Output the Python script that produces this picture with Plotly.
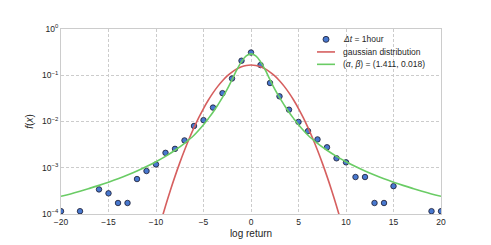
import plotly.graph_objects as go

# Empirical distribution (Δt = 1hour)
x_pts = [-20, -18, -16, -15, -14, -13, -12, -11, -10, -9, -8, -7, -6, -5, -4, -3, -2, -1, 0,
         1, 2, 3, 4, 5, 6, 7, 8, 9, 10, 11, 12, 13, 14, 15, 19, 20]
f_pts = [1.15e-4, 1.15e-4, 3.4e-4, 2.8e-4, 1.73e-4, 1.73e-4, 5.7e-4, 8.5e-4, 1.18e-3, 2.1e-3,
         2.56e-3, 3.9e-3, 8.0e-3, 1.07e-2, 2.0e-2, 4.1e-2, 8.5e-2, 0.206, 0.31,
         0.166, 0.068, 0.035, 0.018, 9.8e-3, 6.2e-3, 4.1e-3, 2.77e-3, 1.6e-3, 1.31e-3,
         6.3e-4, 6.3e-4, 1.73e-4, 1.73e-4, 4.0e-4, 1.15e-4, 1.15e-4]

# Gaussian distribution curve
x_gauss = [-10, -9.5, -9, -8.5, -8, -7.5, -7, -6.5, -6, -5.5, -5, -4.5, -4, -3.5, -3, -2.5, -2,
           -1.5, -1, -0.5, 0, 0.5, 1, 1.5, 2, 2.5, 3, 3.5, 4, 4.5, 5, 5.5, 6, 6.5, 7, 7.5, 8,
           8.5, 9, 9.5, 10]
f_gauss = [2.88e-5, 6.70e-5, 1.493e-4, 3.19e-4, 6.51e-4, 1.274e-3, 2.385e-3, 4.28e-3, 7.35e-3,
           0.0121, 0.01906, 0.02875, 0.0415, 0.0575, 0.0762, 0.0966, 0.1174, 0.1366, 0.1522,
           0.1624, 0.166, 0.1624, 0.1522, 0.1366, 0.1174, 0.0966, 0.0762, 0.0575, 0.0415,
           0.02875, 0.01906, 0.0121, 7.35e-3, 4.28e-3, 2.385e-3, 1.274e-3, 6.51e-4, 3.19e-4,
           1.493e-4, 6.70e-5, 2.88e-5]

# Fitted (alpha, beta) curve
x_fit = [-20, -19, -18, -17, -16, -15, -14, -13, -12, -11, -10, -9, -8, -7, -6, -5, -4.5, -4,
         -3.5, -3, -2.5, -2, -1.5, -1, -0.5, 0, 0.5, 1, 1.5, 2, 2.5, 3, 3.5, 4, 4.5, 5, 6, 7,
         8, 9, 10, 11, 12, 13, 14, 15, 16, 17, 18, 19, 20]
f_fit = [2.41e-4, 2.72e-4, 3.11e-4, 3.58e-4, 4.16e-4, 4.88e-4, 5.79e-4, 6.97e-4, 8.5e-4,
         1.06e-3, 1.35e-3, 1.76e-3, 2.39e-3, 3.38e-3, 5.05e-3, 8.5e-3, 0.0115, 0.0158,
         0.0226, 0.0331, 0.0501, 0.0803, 0.130, 0.197, 0.262, 0.290, 0.262, 0.197, 0.130,
         0.0803, 0.0501, 0.0331, 0.0226, 0.0158, 0.0115, 8.5e-3, 5.05e-3, 3.38e-3, 2.39e-3,
         1.76e-3, 1.35e-3, 1.06e-3, 8.5e-4, 6.97e-4, 5.79e-4, 4.88e-4, 4.16e-4, 3.58e-4,
         3.11e-4, 2.72e-4, 2.41e-4]

x_ticks = [-20, -15, -10, -5, 0, 5, 10, 15, 20]
x_ticktext = ["\u221220", "\u221215", "\u221210", "\u22125", "0", "5", "10", "15", "20"]
y_ticks = [1e-4, 1e-3, 1e-2, 1e-1, 1]
y_ticktext = ["10<sup>\u22124</sup>", "10<sup>\u22123</sup>", "10<sup>\u22122</sup>",
              "10<sup>\u22121</sup>", "10<sup>0</sup>"]

legend_labels = ["<i>\u0394t</i> = 1hour", "gaussian distribution",
                 "(<i>\u03b1</i>, <i>\u03b2</i>) = (1.411, 0.018)"]

FONT = "Liberation Sans, Arial, Helvetica, sans-serif"
TXT = "#262626"
BLUE = "#4878cf"
RED = "#d65f5f"
GREEN = "#6acc65"
EDGE = "#1a1a2e"

fig = go.Figure()
fig.add_trace(go.Scatter(
    x=x_pts, y=f_pts, mode="markers", name=legend_labels[0], showlegend=False,
    marker=dict(size=5.5, color=BLUE, line=dict(color=EDGE, width=0.8)),
))
fig.add_trace(go.Scatter(
    x=x_gauss, y=f_gauss, mode="lines", name=legend_labels[1], showlegend=False,
    line=dict(color=RED, width=1.6, shape="spline"),
))
fig.add_trace(go.Scatter(
    x=x_fit, y=f_fit, mode="lines", name=legend_labels[2], showlegend=False,
    line=dict(color=GREEN, width=1.6, shape="spline"),
))

# Legend drawn in plot-area (paper) coordinates
row_y = [0.944, 0.876, 0.809]
sym_x0, sym_x1, txt_x = 0.6737, 0.7211, 0.7368
shapes = [
    dict(type="circle", xref="paper", yref="paper", xsizemode="pixel", ysizemode="pixel",
         xanchor=(sym_x0 + sym_x1) / 2, yanchor=row_y[0], x0=-3, x1=3, y0=-3, y1=3,
         fillcolor=BLUE, line=dict(color=EDGE, width=0.8)),
    dict(type="line", xref="paper", yref="paper", x0=sym_x0, x1=sym_x1,
         y0=row_y[1], y1=row_y[1], line=dict(color=RED, width=1.6)),
    dict(type="line", xref="paper", yref="paper", x0=sym_x0, x1=sym_x1,
         y0=row_y[2], y1=row_y[2], line=dict(color=GREEN, width=1.6)),
]
annotations = [
    dict(text=lbl, xref="paper", yref="paper", x=txt_x, y=yy, xanchor="left",
         yanchor="middle", showarrow=False, font=dict(size=8.5, color=TXT))
    for lbl, yy in zip(legend_labels, row_y)
]

# The page body has an 8px margin, so the figure is sized to fit inside the window.
fig.update_layout(
    width=483, height=237,
    margin=dict(l=53, r=50, t=21, b=31),
    paper_bgcolor="white", plot_bgcolor="white",
    font=dict(family=FONT, size=8.5, color=TXT),
    showlegend=False,
    shapes=shapes,
    annotations=annotations,
    xaxis=dict(
        range=[-20, 20], tickvals=x_ticks, ticktext=x_ticktext, automargin=False,
        showgrid=True, gridcolor="#cccccc", griddash="3px,2px", gridwidth=0.8,
        showline=True, linecolor="#cccccc", linewidth=1, mirror=True,
        zeroline=False, ticks="", tickfont=dict(size=8.5),
        title=dict(text="log return", font=dict(size=10), standoff=3),
    ),
    yaxis=dict(
        type="log", range=[-4, 0], tickvals=y_ticks, ticktext=y_ticktext, automargin=False,
        showgrid=True, gridcolor="#cccccc", griddash="3px,2px", gridwidth=0.8,
        showline=True, linecolor="#cccccc", linewidth=1, mirror=True,
        zeroline=False, ticks="", tickfont=dict(size=8.5),
        title=dict(text="<i>f</i>(<i>x</i>)", font=dict(size=10), standoff=6),
    ),
)

fig.write_html("out.html")
